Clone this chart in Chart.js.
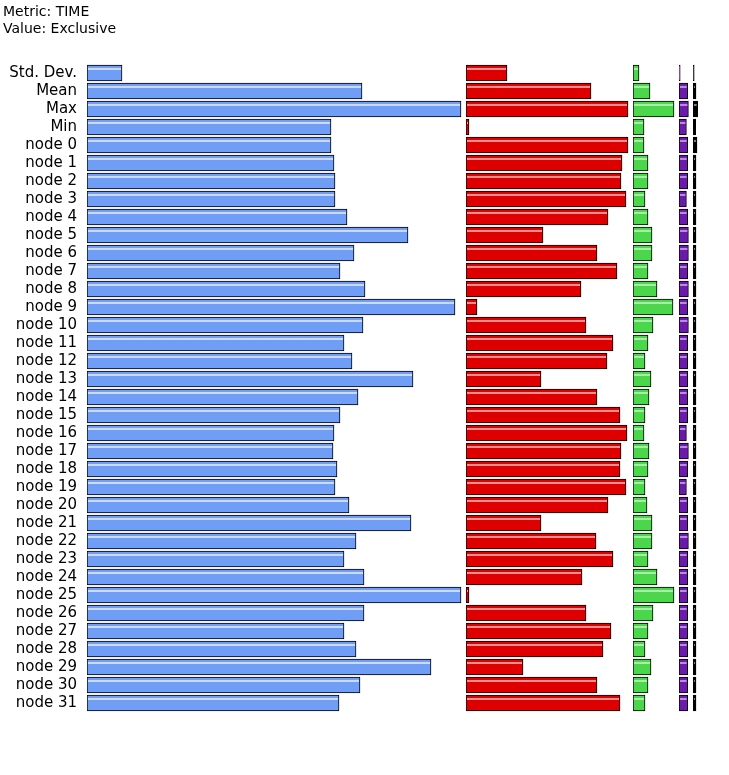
<!DOCTYPE html>
<html>
<head>
<meta charset="utf-8">
<script src="https://cdn.jsdelivr.net/npm/chart.js@4"></script>
<style>
  body { margin: 0; background: #fff; }
</style>
</head>
<body>
<canvas id="myChart" width="729" height="775"></canvas>
<script>
const rows = ['Std. Dev.', 'Mean', 'Max', 'Min',
  'node 0', 'node 1', 'node 2', 'node 3', 'node 4', 'node 5', 'node 6', 'node 7',
  'node 8', 'node 9', 'node 10', 'node 11', 'node 12', 'node 13', 'node 14', 'node 15',
  'node 16', 'node 17', 'node 18', 'node 19', 'node 20', 'node 21', 'node 22', 'node 23',
  'node 24', 'node 25', 'node 26', 'node 27', 'node 28', 'node 29', 'node 30', 'node 31'];

// exclusive time per function (5 columns), one value per row
const func1 = [35, 275, 374, 244, 244, 247, 248, 248, 260, 321, 267, 253, 278, 368, 276, 257,
  265, 326, 271, 253, 247, 246, 250, 248, 262, 324, 269, 257, 277, 374, 277, 257, 269, 344, 273, 252];
const func2 = [41, 125, 162, 3, 162, 156, 155, 160, 142, 77, 131, 151, 115, 11, 120, 147,
  141, 75, 131, 154, 161, 155, 154, 160, 142, 75, 130, 147, 116, 3, 120, 145, 137, 57, 131, 154];
const func3 = [6, 17, 41, 11, 11, 15, 15, 12, 15, 19, 19, 15, 24, 40, 20, 15,
  12, 18, 16, 12, 11, 16, 15, 12, 14, 19, 19, 15, 24, 41, 20, 15, 12, 18, 15, 12];
const func4 = [1.2, 8.7, 9.4, 7.4, 8.7, 8.7, 8.7, 7.4, 8.7, 9.4, 9.4, 8.7, 9.4, 8.7, 9.4, 8.7,
  8.7, 8.7, 8.7, 8.7, 7.4, 9.4, 8.7, 7.4, 8.7, 8.7, 9.4, 8.7, 8.7, 8.7, 8.7, 8.7, 8.7, 8.7, 8.7, 8.7];
const func5 = [1.2, 3, 4.7, 2.7, 4, 3, 3, 3, 3, 3, 3, 3, 3, 3, 3, 3,
  3, 3, 3, 3, 3, 3, 3, 3, 3, 3, 3, 3, 3, 3, 3, 3, 3, 3, 3, 3];

// little highlight stripe near the top of each bar
const gloss = {
  id: 'gloss',
  afterDatasetsDraw(chart) {
    const ctx = chart.ctx;
    chart.data.datasets.forEach((ds, i) => {
      chart.getDatasetMeta(i).data.forEach(bar => {
        const p = bar.getProps(['x', 'y', 'base', 'height']);
        const left = Math.min(p.x, p.base);
        const w = Math.abs(p.x - p.base);
        if (w < 3) return;
        const top = p.y - p.height / 2;
        ctx.save();
        ctx.fillStyle = ds.shine;
        ctx.fillRect(left + 1, top + 3, w - 2, 2);
        ctx.restore();
      });
    });
  }
};

function column(data, color, shine, axis) {
  return {
    data: data,
    xAxisID: axis,
    backgroundColor: color,
    borderColor: '#000',
    borderWidth: 1,
    borderSkipped: false,
    grouped: false,
    barThickness: 16,
    shine: shine
  };
}

// the five columns share the width, each gets a slice as wide as its max
function xAxis(max, order) {
  return {
    type: 'linear',
    position: 'bottom',
    stack: 'cols',
    stackWeight: max,
    weight: order,
    min: 0,
    max: max,
    display: false
  };
}

new Chart(document.getElementById('myChart'), {
  type: 'bar',
  data: {
    labels: rows,
    datasets: [
      column(func1, 'rgb(112,157,246)', 'rgba(225,235,255,0.8)', 'x1'),
      column(func2, 'rgb(222,0,0)', 'rgba(255,170,170,0.85)', 'x2'),
      column(func3, 'rgb(76,214,76)', 'rgba(190,245,190,0.8)', 'x3'),
      column(func4, 'rgb(108,26,172)', 'rgba(205,170,235,0.8)', 'x4'),
      column(func5, '#000', 'rgba(140,140,140,0.9)', 'x5')
    ]
  },
  options: {
    indexAxis: 'y',
    responsive: false,
    animation: false,
    layout: { padding: { left: 3, right: 29, top: 0, bottom: 63 } },
    plugins: {
      legend: { display: false },
      tooltip: { enabled: false },
      title: {
        display: true,
        align: 'start',
        text: ['Metric: TIME', 'Value: Exclusive'],
        color: '#000',
        font: { family: 'DejaVu Sans', size: 14, weight: 'normal', lineHeight: 1.22 },
        padding: { top: 3.5, bottom: 26.3 }
      }
    },
    scales: {
      y: {
        grid: { display: false },
        border: { display: false },
        ticks: {
          color: '#000',
          padding: 2,
          autoSkip: false,
          font: { family: 'DejaVu Sans', size: 15 }
        },
        afterFit: function(scale) { scale.width = 84; }
      },
      x1: xAxis(379, 1),
      x2: xAxis(167, 2),
      x3: xAxis(46, 3),
      x4: xAxis(14, 4),
      x5: xAxis(7, 5)
    }
  },
  plugins: [gloss]
});
</script>
</body>
</html>
